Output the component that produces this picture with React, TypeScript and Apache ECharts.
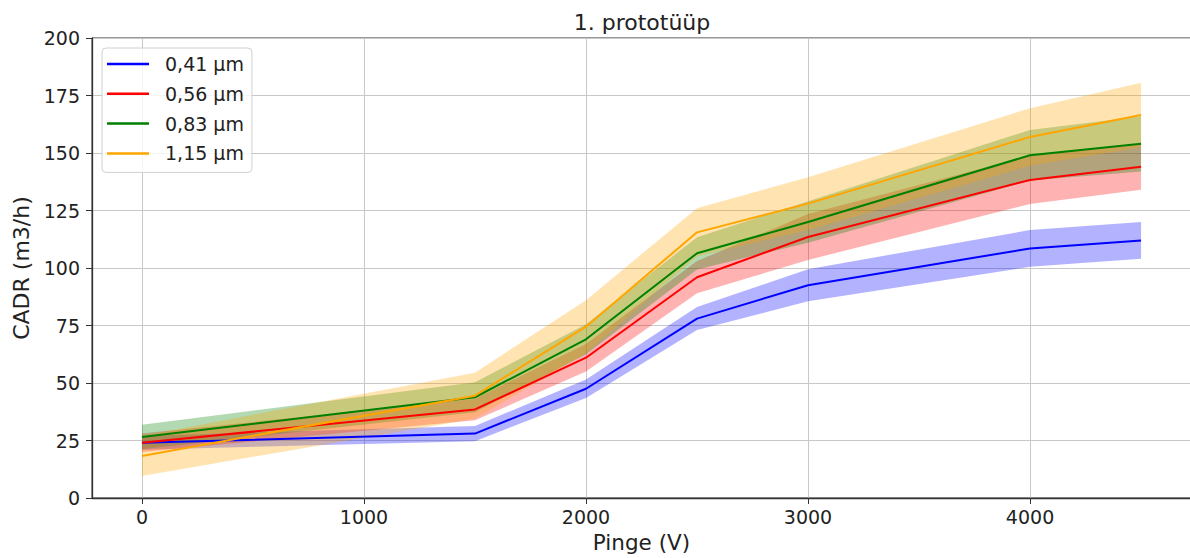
import React, { useEffect, useRef } from "react";
import * as echarts from "echarts";

const voltages = [0, 1500, 2000, 2500, 3000, 4000, 4500];
const xTicks = [0, 1000, 2000, 3000, 4000];

const names = ["0,41 µm", "0,56 µm", "0,83 µm", "1,15 µm"];
const colors = ["#0000ff", "#ff0000", "#008000", "#ffa500"];

const mean041 = [24, 28, 47.5, 78, 92.5, 108.5, 112];
const err041 = [3, 3.3, 4, 5, 7, 8, 8];
const mean056 = [24, 38.5, 61, 96, 113.5, 138.3, 144];
const err056 = [4, 4.7, 6, 7, 10, 10.5, 10];
const mean083 = [26.5, 43.8, 69, 106.4, 120, 149, 154];
const err083 = [5.3, 6.5, 6.5, 7, 9, 11, 12];
const mean115 = [18.3, 44.5, 74.5, 115.5, 128, 157, 166.5];
const err115 = [8.7, 10, 11.5, 10.5, 11.5, 12.5, 14];

const means = [mean041, mean056, mean083, mean115];
const errs = [err041, err056, err083, err115];

const FONT = "DejaVu Sans";

export default function App() {
  const ref = useRef<HTMLDivElement>(null);
  useEffect(() => {
    if (!ref.current) return;
    const chart = echarts.init(ref.current, undefined, { renderer: "svg" });

    const bandSeries = means.map((m, k) => ({
      type: "custom",
      name: "band" + k,
      silent: true,
      z: 1,
      clip: true,
      data: voltages.map((x, i) => [x, m[i] - errs[k][i], m[i] + errs[k][i]]),
      encode: { x: 0, y: [1, 2] },
      renderItem: (params: any, api: any) => {
        if (params.dataIndex !== 0) return null;
        const upper = voltages.map((x, i) => api.coord([x, m[i] + errs[k][i]]));
        const lower = voltages
          .map((x, i) => api.coord([x, m[i] - errs[k][i]]))
          .reverse();
        return {
          type: "polygon",
          shape: { points: upper.concat(lower) },
          style: { fill: colors[k], opacity: 0.3 },
        };
      },
    }));

    const lineSeries = means.map((m, k) => ({
      type: "line",
      name: names[k],
      z: 3,
      data: voltages.map((x, i) => [x, m[i]]),
      showSymbol: false,
      symbol: "none",
      color: colors[k],
      lineStyle: { color: colors[k], width: 2 },
    }));

    chart.setOption({
      animation: false,
      backgroundColor: "#ffffff",
      textStyle: { fontFamily: FONT },
      graphic: [
        {
          type: "text",
          x: 642,
          y: 22,
          style: {
            text: "1. prototüüp",
            fontFamily: FONT,
            fontSize: 22,
            fill: "#222",
            textAlign: "center",
            textVerticalAlign: "middle",
          },
        },
      ],
      grid: {
        left: 92,
        top: 38,
        width: 1099,
        height: 460,
        show: true,
        borderColor: "#333",
        borderWidth: 1,
        backgroundColor: "transparent",
        containLabel: false,
        outerBoundsMode: "none",
      },
      legend: {
        data: names,
        orient: "vertical",
        left: 102,
        top: 48,
        padding: [6, 8, 9, 5],
        itemGap: 9.8,
        itemWidth: 42,
        itemHeight: 2.5,
        icon: "rect",
        backgroundColor: "rgba(255,255,255,0.8)",
        borderColor: "#d0d0d0",
        borderWidth: 1,
        borderRadius: 4,
        textStyle: {
          fontFamily: FONT,
          fontSize: 19,
          color: "#222",
          lineHeight: 20,
          padding: [0, 0, 0, 11],
        },
      },
      xAxis: {
        type: "value",
        min: -225,
        max: 4725,
        name: "Pinge (V)",
        nameLocation: "middle",
        nameGap: 33,
        nameTextStyle: { fontFamily: FONT, fontSize: 21.5, color: "#222" },
        axisLine: { show: true, onZero: false, lineStyle: { color: "#333", width: 1.3 } },
        axisTick: {
          show: true,
          length: 6,
          inside: false,
          customValues: xTicks,
          lineStyle: { color: "#333" },
        },
        axisLabel: {
          customValues: xTicks,
          formatter: (v: number) => String(v),
          fontFamily: FONT,
          fontSize: 19,
          color: "#222",
          margin: 9,
        },
        splitLine: { show: true, lineStyle: { color: "#c8c8c8", width: 1 } },
      },
      yAxis: {
        type: "value",
        min: 0,
        max: 200,
        interval: 25,
        name: "CADR (m3/h)",
        nameLocation: "middle",
        nameGap: 58,
        nameTextStyle: { fontFamily: FONT, fontSize: 22, color: "#222" },
        axisLine: { show: true, onZero: false, lineStyle: { color: "#333", width: 1.3 } },
        axisTick: { show: true, length: 6, inside: false, lineStyle: { color: "#333" } },
        axisLabel: { fontFamily: FONT, fontSize: 19, color: "#222", margin: 12 },
        splitLine: { show: true, lineStyle: { color: "#c8c8c8", width: 1 } },
      },
      series: [...bandSeries, ...lineSeries],
    });

    return () => chart.dispose();
  }, []);

  return (
    <div
      ref={ref}
      style={{ position: "absolute", left: 0, top: 0, width: 1190, height: 558 }}
    />
  );
}
